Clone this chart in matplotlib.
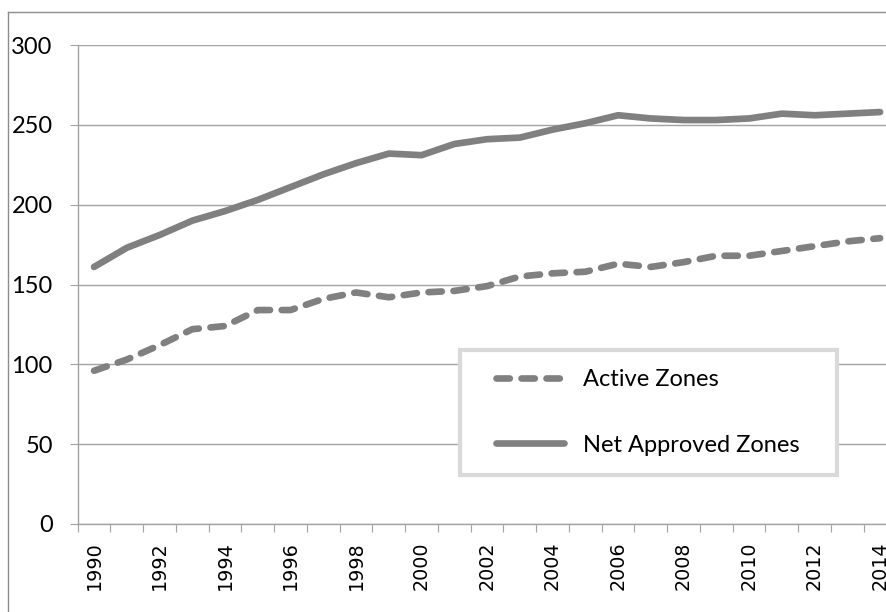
#Loading necesary libraries
import numpy as np
import matplotlib
matplotlib.use("Agg")
from matplotlib import pyplot as plt
from matplotlib.patches import Rectangle
from matplotlib.lines import Line2D

# Data
years = list(range(1990, 2015))
active_zones = [96, 103, 112, 122, 124, 134, 134, 141, 145, 142, 145, 146, 149,
                155, 157, 158, 163, 161, 164, 168, 168, 171, 174, 177, 179]
net_approved_zones = [161, 173, 181, 190, 196, 203, 211, 219, 226, 232, 231, 238, 241,
                      242, 247, 251, 256, 254, 253, 253, 254, 257, 256, 257, 258]
y_ticks = [0, 50, 100, 150, 200, 250, 300]
x_labels = [str(y) for y in years[::2]]

W, H = 886, 612
fig = plt.figure(figsize=(W / 100, H / 100), dpi=100)

# axes runs a bit past the right edge, like the cropped original
left, right, top, bottom = 77.7, 896.5, 45, 524
ax = fig.add_axes([left / W, 1 - bottom / H, (right - left) / W, (bottom - top) / H])

line_col = "#808080"
grid_col = "#a3a3a3"
x = np.arange(len(years))

ax.plot(x, net_approved_zones, color=line_col, lw=4.8, solid_capstyle="round",
        solid_joinstyle="round", label="Net Approved Zones", zorder=3)
ax.plot(x, active_zones, color=line_col, lw=4.8, dashes=(2.0, 1.75),
        dash_capstyle="round", dash_joinstyle="round", label="Active Zones", zorder=3)

ax.set_xlim(-0.5, len(years) - 0.5)
ax.set_ylim(0, 300)

# y axis
ax.set_yticks(y_ticks)
ax.set_yticklabels([str(v) for v in y_ticks])
ax.tick_params(axis="y", length=6, width=0.8, color=grid_col, pad=12, labelsize=17)
ax.yaxis.grid(True, color=grid_col, lw=1.0)
ax.set_axisbelow(True)

# x axis: ticks between categories, labels every other year
ax.set_xticks(x[::2])
ax.set_xticks(np.arange(len(years) + 1) - 0.5, minor=True)
ax.tick_params(axis="x", which="major", length=0, pad=12.5)
ax.tick_params(axis="x", which="minor", length=6, width=0.8, color=grid_col)
ax.set_xticklabels(x_labels, rotation=90, fontsize=13.8, family="DejaVu Sans")

for lab in ax.get_yticklabels():
    lab.set_fontfamily("Lato")

for s in ["top", "right"]:
    ax.spines[s].set_visible(False)
for s in ["left", "bottom"]:
    ax.spines[s].set_color(grid_col)
    ax.spines[s].set_linewidth(1.0)

# legend box
box = Rectangle((460 / W, 1 - 475 / H), (837 - 460) / W, (475 - 350) / H,
                transform=fig.transFigure, facecolor="white", edgecolor="#d9d9d9",
                lw=3.0, zorder=4, clip_on=False)
ax.add_patch(box)

handles = [Line2D([], [], color=line_col, lw=4.8, dashes=(2.0, 1.75), dash_capstyle="round"),
           Line2D([], [], color=line_col, lw=4.8, solid_capstyle="round")]
leg = ax.legend(handles, ["Active Zones", "Net Approved Zones"], loc="center left",
                bbox_to_anchor=(496 / W, 1 - 412.5 / H), bbox_transform=fig.transFigure,
                frameon=False, borderpad=0, borderaxespad=0, handlelength=2.88,
                handletextpad=0.8, labelspacing=1.87, prop={"family": "Lato", "size": 17})
leg.set_zorder(5)

# outer chart border (left and top only visible)
fig.add_artist(Line2D([8 / W, 8 / W], [0, 1 - 12 / H], transform=fig.transFigure,
                      color="#8c8c8c", lw=1.0))
fig.add_artist(Line2D([8 / W, 1], [1 - 12 / H, 1 - 12 / H], transform=fig.transFigure,
                      color="#8c8c8c", lw=1.0))

plt.savefig("out.png", dpi=100)
